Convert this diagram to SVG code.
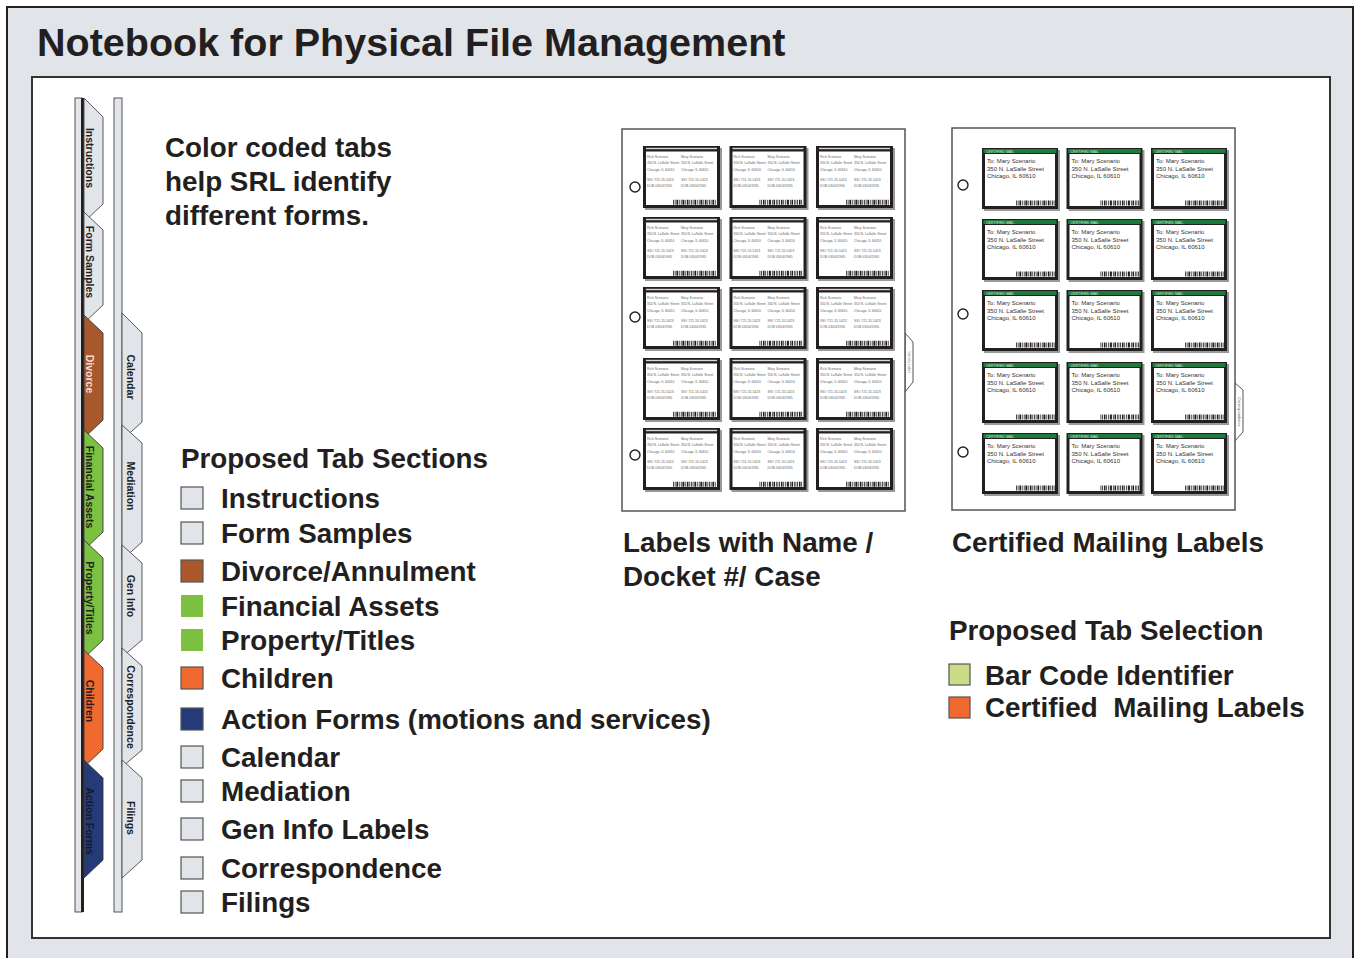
<svg xmlns="http://www.w3.org/2000/svg" xmlns:xlink="http://www.w3.org/1999/xlink" width="1356" height="958" viewBox="0 0 1356 958">
<style>
.t{font-family:"Liberation Sans",Arial,Helvetica,sans-serif;font-weight:bold;fill:#231f20}
.big{font-size:27.8px}
.tab{font-family:"Liberation Sans",Arial,sans-serif;font-weight:bold;font-size:10.5px;fill:#231f20}
.gtab{fill:#e1e4e9;stroke:#4a4a4a;stroke-width:0.9}
.ctab{stroke:#3a3a3a;stroke-width:0.9}
.sw{stroke:#555;stroke-width:1.2}
.tA{font-family:"Liberation Sans",Arial,sans-serif;font-size:3.4px;fill:#666}
.tB{font-family:"Liberation Sans",Arial,sans-serif;font-size:6px;fill:#333}
.bc{stroke:#231f20;stroke-width:5;stroke-dasharray:0.8 0.9 0.8 0.9 1.6 0.8 0.8 1.2 0.8 0.8 2 1 0.8 0.8 1.5 0.9 0.8 0.8}
.sheet{fill:#fff;stroke:#555;stroke-width:1.5}
.hole{fill:#fff;stroke:#231f20;stroke-width:1.4}
</style>
<defs>
<g id="lblA">
 <rect x="2" y="2" width="77" height="62" fill="#9a9a9a"/>
 <rect x="0" y="0" width="77" height="62" fill="#231f20"/>
 <rect x="3" y="1.8" width="71" height="1.4" fill="#d9d9d9"/>
 <rect x="3" y="5.5" width="71" height="53.5" fill="#fff"/>
 <text class="tA" x="4" y="12">Rich Scenario</text>
 <text class="tA" x="4" y="18">350 N. LaSalle Street</text>
 <text class="tA" x="4" y="25">Chicago, IL 60610</text>
 <text class="tA" x="4" y="35">SS# 721-55-5423</text>
 <text class="tA" x="4" y="41">DOB 03/04/1965</text>
 <text class="tA" x="38" y="12">Mary Scenario</text>
 <text class="tA" x="38" y="18">350 N. LaSalle Street</text>
 <text class="tA" x="38" y="25">Chicago, IL 60610</text>
 <text class="tA" x="38" y="35">SS# 721-55-5423</text>
 <text class="tA" x="38" y="41">DOB 03/04/1965</text>
 <line class="bc" x1="30" y1="56.2" x2="73.5" y2="56.2"/>
</g>
<g id="lblB">
 <rect x="2" y="2" width="76" height="61" fill="#9a9a9a"/>
 <rect x="0" y="0" width="76" height="61" fill="#231f20"/>
 <rect x="1.5" y="1" width="73" height="4" fill="#1e7a3c"/>
 <text x="4" y="4.5" font-family="Liberation Sans,Arial,sans-serif" font-size="3.6" fill="#cfe6d4">CERTIFIED MAIL</text>
 <rect x="3" y="6" width="70" height="52" fill="#fff"/>
 <text class="tB" x="5" y="15">To: Mary Scenario</text>
 <text class="tB" x="5" y="22.5">350 N. LaSalle Street</text>
 <text class="tB" x="5" y="30">Chicago, IL 60610</text>
 <line class="bc" x1="34" y1="55" x2="73" y2="55"/>
</g>
</defs>

<g id="frame">
 <rect x="7" y="7" width="1346" height="960" fill="#e1e4e9" stroke="#231f20" stroke-width="2"/>
 <rect x="32" y="77" width="1298" height="861" fill="#fff" stroke="#333" stroke-width="2"/>
</g>
<g id="title">
 <text class="t" x="37" y="56" font-size="39.5">Notebook for Physical File Management</text>
</g>

<g id="tab-strip-left">
 <rect x="75" y="98" width="7" height="814" fill="#e1e4e9" stroke="#555" stroke-width="1"/>
 <rect x="81" y="98" width="3" height="814" fill="#231f20"/>
 <g id="tab-instructions"><polygon class="gtab" points="84,98 103,117 103,204 84,222"/><text class="tab" transform="translate(86,158) rotate(90)" text-anchor="middle">Instructions</text></g>
 <g id="tab-form-samples"><polygon class="gtab" points="84,212 103,230 103,305 84,323"/><text class="tab" transform="translate(86,262) rotate(90)" text-anchor="middle">Form Samples</text></g>
 <g id="tab-divorce"><polygon class="ctab" fill="#a9582e" points="84,315 103,333 103,420 84,438"/><text class="tab" style="fill:#f3dccf" transform="translate(86,374) rotate(90)" text-anchor="middle">Divorce</text></g>
 <g id="tab-financial"><polygon class="ctab" fill="#7cc142" points="84,430 103,448 103,532 84,550"/><text class="tab" transform="translate(86,487) rotate(90)" text-anchor="middle">Financial Assets</text></g>
 <g id="tab-property"><polygon class="ctab" fill="#7cc142" points="84,540 103,558 103,640 84,658"/><text class="tab" transform="translate(86,598) rotate(90)" text-anchor="middle">Property/Titles</text></g>
 <g id="tab-children"><polygon class="ctab" fill="#f0692e" points="84,650 103,668 103,749 84,767"/><text class="tab" transform="translate(86,701) rotate(90)" text-anchor="middle">Children</text></g>
 <g id="tab-action"><polygon class="ctab" fill="#253b78" points="84,760 103,778 103,860 84,878"/><text class="tab" style="fill:#15182a" transform="translate(86,821) rotate(90)" text-anchor="middle">Action Forms</text></g>
</g>

<g id="tab-strip-right">
 <rect x="114" y="98" width="8" height="814" fill="#e1e4e9" stroke="#555" stroke-width="1"/>
 <g id="tab-calendar"><polygon class="gtab" points="122,313 142,333 142,422 122,440"/><text class="tab" transform="translate(126.5,377) rotate(90)" text-anchor="middle">Calendar</text></g>
 <g id="tab-mediation"><polygon class="gtab" points="122,425 142,443 142,542 122,560"/><text class="tab" transform="translate(126.5,486) rotate(90)" text-anchor="middle">Mediation</text></g>
 <g id="tab-geninfo"><polygon class="gtab" points="122,545 142,563 142,640 122,657"/><text class="tab" transform="translate(126.5,596) rotate(90)" text-anchor="middle">Gen Info</text></g>
 <g id="tab-correspondence"><polygon class="gtab" points="122,648 142,666 142,750 122,767"/><text class="tab" transform="translate(126.5,707) rotate(90)" text-anchor="middle">Correspondence</text></g>
 <g id="tab-filings"><polygon class="gtab" points="122,760 142,778 142,860 122,878"/><text class="tab" transform="translate(126.5,818) rotate(90)" text-anchor="middle">Filings</text></g>
</g>

<g id="intro-text">
 <text class="t big" x="165" y="157">Color coded tabs</text>
 <text class="t big" x="165" y="191">help SRL identify</text>
 <text class="t big" x="165" y="225">different forms.</text>
</g>

<g id="tab-sections-legend">
 <text class="t big" x="181" y="468">Proposed Tab Sections</text>
 <rect class="sw" x="181" y="487" width="22" height="22" fill="#e1e4e9"/><text class="t big" x="221" y="508">Instructions</text>
 <rect class="sw" x="181" y="522" width="22" height="22" fill="#e1e4e9"/><text class="t big" x="221" y="543">Form Samples</text>
 <rect class="sw" x="181" y="560" width="22" height="22" fill="#a9582e"/><text class="t big" x="221" y="581">Divorce/Annulment</text>
 <rect x="181" y="595" width="22" height="22" fill="#7cc142"/><text class="t big" x="221" y="616">Financial Assets</text>
 <rect x="181" y="629" width="22" height="22" fill="#7cc142"/><text class="t big" x="221" y="650">Property/Titles</text>
 <rect class="sw" x="181" y="667" width="22" height="22" fill="#f0692e"/><text class="t big" x="221" y="688">Children</text>
 <rect class="sw" x="181" y="708" width="22" height="22" fill="#253b78"/><text class="t big" x="221" y="729">Action Forms (motions and services)</text>
 <rect class="sw" x="181" y="746" width="22" height="22" fill="#e1e4e9"/><text class="t big" x="221" y="767">Calendar</text>
 <rect class="sw" x="181" y="780" width="22" height="22" fill="#e1e4e9"/><text class="t big" x="221" y="801">Mediation</text>
 <rect class="sw" x="181" y="818" width="22" height="22" fill="#e1e4e9"/><text class="t big" x="221" y="839">Gen Info Labels</text>
 <rect class="sw" x="181" y="857" width="22" height="22" fill="#e1e4e9"/><text class="t big" x="221" y="878">Correspondence</text>
 <rect class="sw" x="181" y="891" width="22" height="22" fill="#e1e4e9"/><text class="t big" x="221" y="912">Filings</text>
</g>

<g id="sheet-name-labels">
 <polygon fill="#fff" stroke="#555" stroke-width="1" points="905,333 913,342 913,382 905,392"/>
 <text transform="translate(908,362) rotate(90)" text-anchor="middle" font-family="Liberation Sans,Arial,sans-serif" font-size="3.5" fill="#777">Identify Label</text>
 <rect class="sheet" x="622" y="129" width="283" height="382"/>
 <circle class="hole" cx="635" cy="187" r="5"/>
 <circle class="hole" cx="635" cy="317" r="5"/>
 <circle class="hole" cx="635" cy="455" r="5"/>
 <use xlink:href="#lblA" x="643" y="146"/><use xlink:href="#lblA" x="729.5" y="146"/><use xlink:href="#lblA" x="816" y="146"/>
 <use xlink:href="#lblA" x="643" y="217"/><use xlink:href="#lblA" x="729.5" y="217"/><use xlink:href="#lblA" x="816" y="217"/>
 <use xlink:href="#lblA" x="643" y="287"/><use xlink:href="#lblA" x="729.5" y="287"/><use xlink:href="#lblA" x="816" y="287"/>
 <use xlink:href="#lblA" x="643" y="358"/><use xlink:href="#lblA" x="729.5" y="358"/><use xlink:href="#lblA" x="816" y="358"/>
 <use xlink:href="#lblA" x="643" y="428"/><use xlink:href="#lblA" x="729.5" y="428"/><use xlink:href="#lblA" x="816" y="428"/>
 <text class="t big" x="623" y="552">Labels with Name /</text>
 <text class="t big" x="623" y="586">Docket #/ Case</text>
</g>

<g id="sheet-certified-labels">
 <polygon fill="#fff" stroke="#555" stroke-width="1" points="1234,382 1243,390 1243,432 1234,442"/>
 <text transform="translate(1237.5,412) rotate(90)" text-anchor="middle" font-family="Liberation Sans,Arial,sans-serif" font-size="4" fill="#666">Correspondence</text>
 <rect class="sheet" x="952" y="128" width="283" height="382"/>
 <circle class="hole" cx="963" cy="185" r="5"/>
 <circle class="hole" cx="963" cy="314" r="5"/>
 <circle class="hole" cx="963" cy="452" r="5"/>
 <use xlink:href="#lblB" x="982" y="148"/><use xlink:href="#lblB" x="1066.5" y="148"/><use xlink:href="#lblB" x="1151" y="148"/>
 <use xlink:href="#lblB" x="982" y="219"/><use xlink:href="#lblB" x="1066.5" y="219"/><use xlink:href="#lblB" x="1151" y="219"/>
 <use xlink:href="#lblB" x="982" y="290"/><use xlink:href="#lblB" x="1066.5" y="290"/><use xlink:href="#lblB" x="1151" y="290"/>
 <use xlink:href="#lblB" x="982" y="362"/><use xlink:href="#lblB" x="1066.5" y="362"/><use xlink:href="#lblB" x="1151" y="362"/>
 <use xlink:href="#lblB" x="982" y="433"/><use xlink:href="#lblB" x="1066.5" y="433"/><use xlink:href="#lblB" x="1151" y="433"/>
 <text class="t big" x="952" y="552">Certified Mailing Labels</text>
</g>

<g id="tab-selection-legend">
 <text class="t big" x="949" y="640">Proposed Tab Selection</text>
 <rect class="sw" x="949" y="664" width="21" height="21" fill="#cbdc87"/>
 <text class="t big" x="985" y="685">Bar Code Identifier</text>
 <rect class="sw" x="949" y="697" width="21" height="21" fill="#f0692e"/>
 <text class="t big" x="985" y="717" xml:space="preserve">Certified  Mailing Labels</text>
</g>
</svg>
